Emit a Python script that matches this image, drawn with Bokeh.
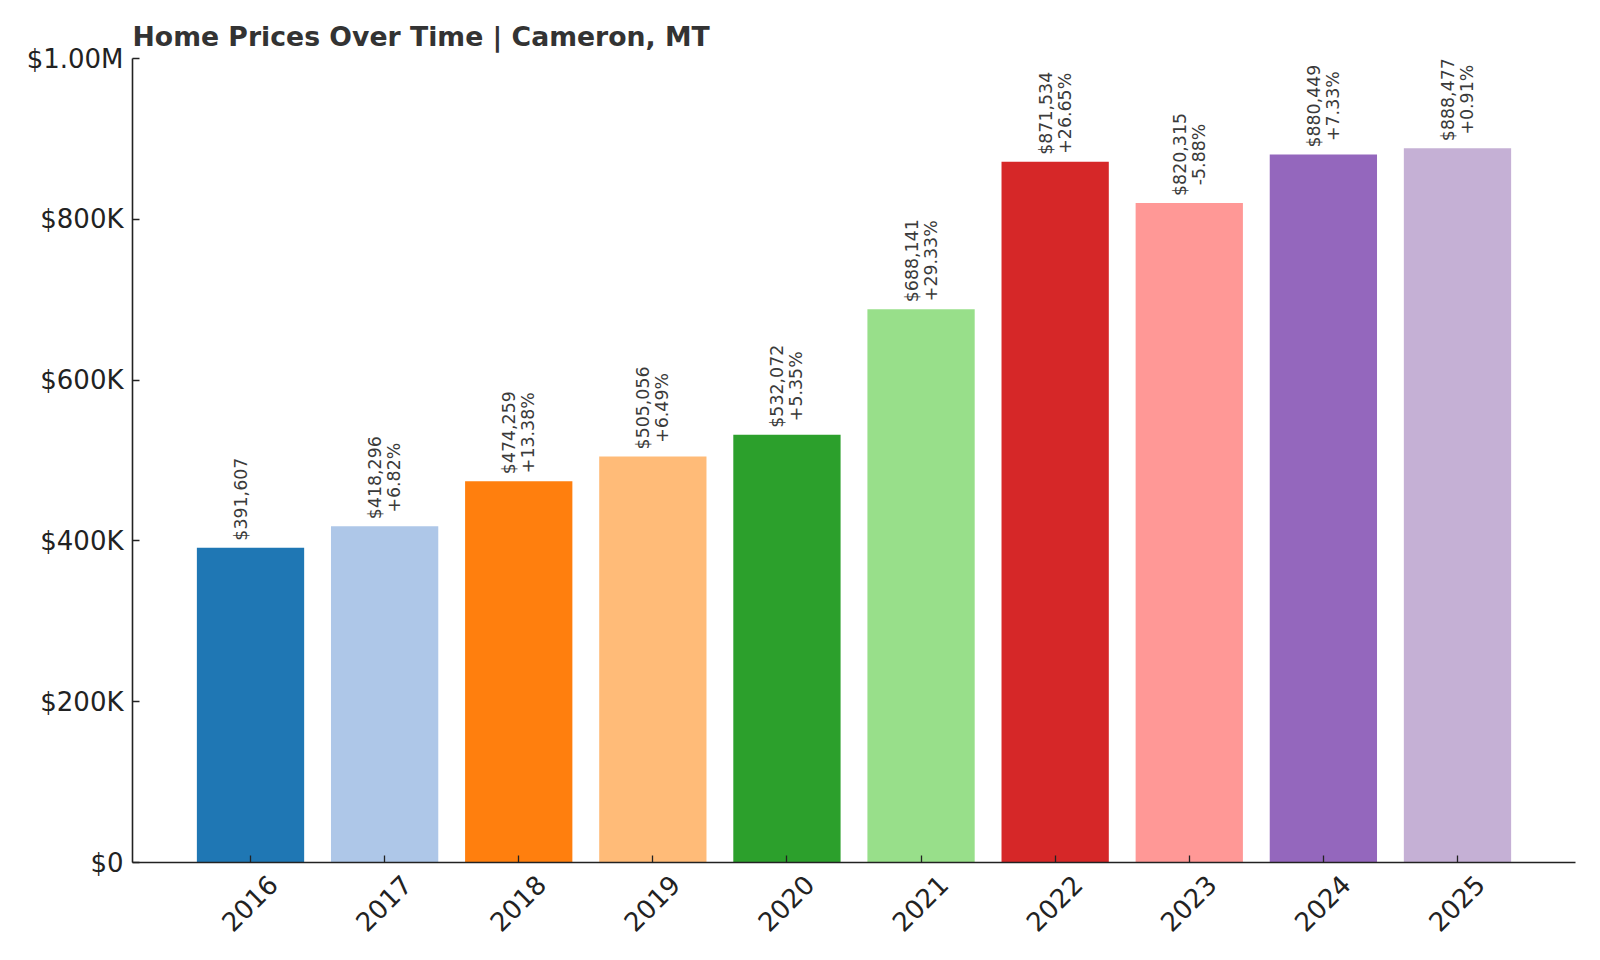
import math
from bokeh.plotting import figure
from bokeh.models import Range1d, FixedTicker, LinearAxis, ColumnDataSource
from bokeh.embed import file_html
from bokeh.resources import INLINE
from bokeh.core.properties import value

# ---- data ----
years = [2016, 2017, 2018, 2019, 2020, 2021, 2022, 2023, 2024, 2025]
prices = [391607, 418296, 474259, 505056, 532072, 688141, 871534, 820315, 880449, 888477]
changes = ["", "+6.82%", "+13.38%", "+6.49%", "+5.35%", "+29.33%", "+26.65%", "-5.88%", "+7.33%", "+0.91%"]
colors = ["#1f77b4", "#aec7e8", "#ff7f0e", "#ffbb78", "#2ca02c",
          "#98df8a", "#d62728", "#ff9896", "#9467bd", "#c5b0d5"]
y_ticks = [0, 200000, 400000, 600000, 800000, 1000000]
y_tick_labels = ["$0", "$200K", "$400K", "$600K", "$800K", "$1.00M"]
title = "Home Prices Over Time | Cameron, MT"

labels = [f"${p:,}\n{c}" for p, c in zip(prices, changes)]
src = ColumnDataSource(dict(x=years, top=prices, color=colors, label=labels))

FONT = "DejaVu Sans"
W, H = 1596, 956

p = figure(width=W, height=H, output_backend="svg", toolbar_location=None,
           x_range=Range1d(years[0] - 0.88, years[-1] + 0.88),
           y_range=Range1d(0, 1000000),
           x_axis_type=None, y_axis_type=None,
           min_border_left=132, min_border_right=21,
           min_border_top=58, min_border_bottom=94)
p.outline_line_color = None
p.background_fill_color = "white"
p.border_fill_color = "white"

p.title.text = title
p.title.text_font = FONT
p.title.text_font_size = "26.7px"
p.title.text_font_style = "bold"
p.title.text_color = "#333333"
p.title.align = "left"
p.title.offset = 0
p.title.standoff = 14

p.vbar(x="x", top="top", width=0.8, fill_color="color", line_color=None, source=src)

p.text(x="x", y="top", text="label", source=src, angle=math.pi / 2,
       text_align="center", text_baseline="middle", y_offset=-48.5,
       text_font=value(FONT), text_font_size="17.4px", text_color="#3a3a3a",
       text_line_height=0.95)

# y axis
yaxis = LinearAxis(ticker=FixedTicker(ticks=y_ticks),
                   major_label_overrides=dict(zip(y_ticks, y_tick_labels)),
                   major_tick_in=7, major_tick_out=0,
                   minor_tick_line_color=None,
                   axis_line_width=1.6, axis_line_color="#222222",
                   major_tick_line_width=1.3, major_tick_line_color="#222222",
                   major_label_text_font=FONT, major_label_text_font_size="26px",
                   major_label_text_color="#222222", major_label_standoff=9)
p.add_layout(yaxis, "left")

# x axis: line + inward ticks
xaxis = LinearAxis(ticker=FixedTicker(ticks=years),
                   major_label_overrides={y: "" for y in years},
                   major_tick_in=7, major_tick_out=0,
                   minor_tick_line_color=None,
                   axis_line_width=1.6, axis_line_color="#222222",
                   major_tick_line_width=1.3, major_tick_line_color="#222222",
                   major_label_text_font_size="1px", major_label_standoff=0)
p.add_layout(xaxis, "below")

# x axis labels (rotated, centred under the ticks)
shift = 0.165
lab_ticks = [y + shift for y in years]
xlab = LinearAxis(ticker=FixedTicker(ticks=lab_ticks),
                  major_label_overrides={t: str(y) for t, y in zip(lab_ticks, years)},
                  axis_line_color=None, major_tick_line_color=None,
                  minor_tick_line_color=None,
                  major_tick_in=0, major_tick_out=0,
                  major_label_orientation=math.pi / 4,
                  major_label_text_font=FONT, major_label_text_font_size="26px",
                  major_label_text_color="#222222", major_label_standoff=17)
p.add_layout(xlab, "below")

open("out.html", "w").write(file_html(p, INLINE))
